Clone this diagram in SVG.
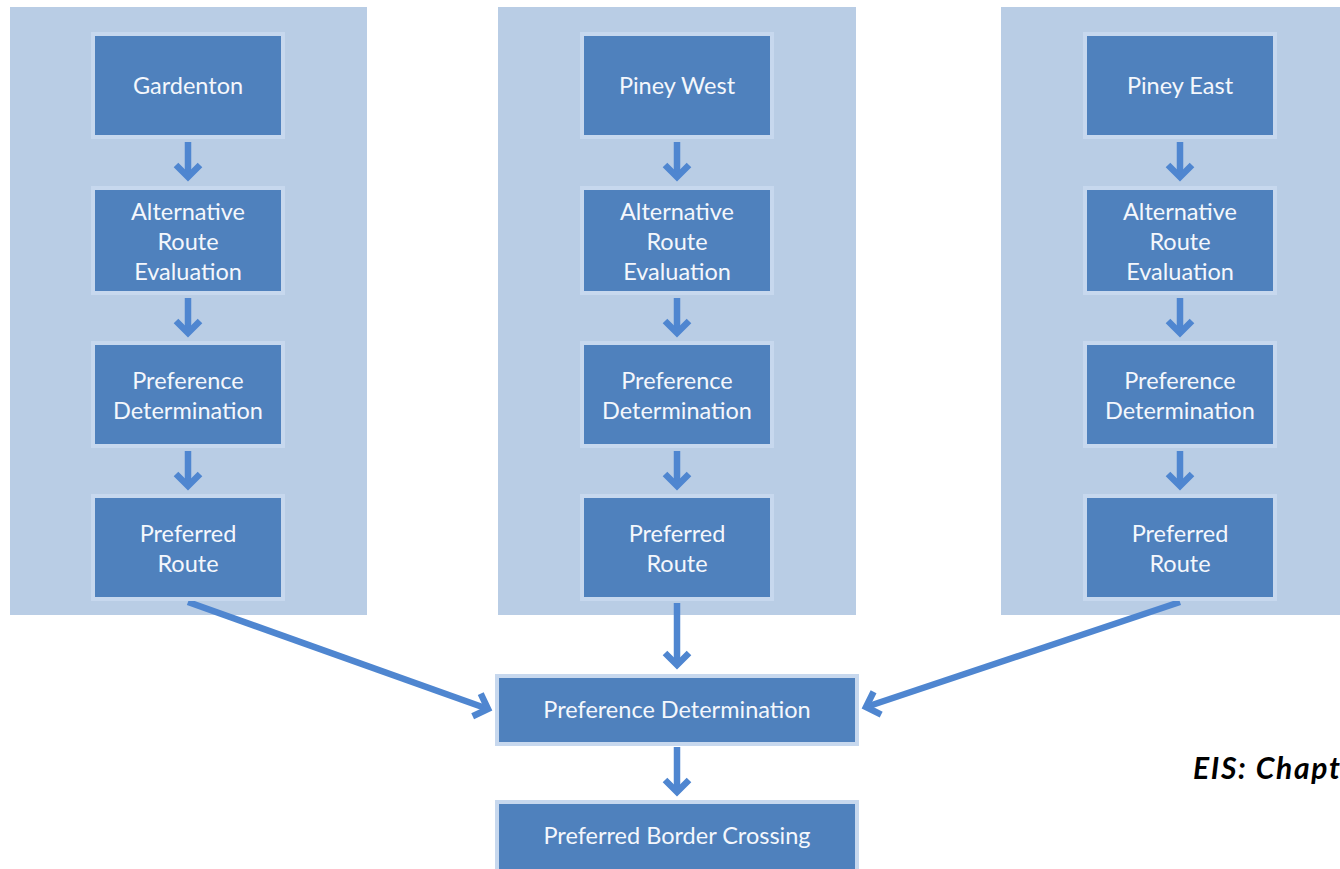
<svg xmlns="http://www.w3.org/2000/svg" width="1340" height="869" viewBox="0 0 1340 869">
<style>
.panel{fill:#B9CDE5;}
.box{fill:#4F81BD;stroke:#C7D8EE;stroke-width:4;}
.t{font-family:Lato,"Open Sans",sans-serif;font-size:23.5px;fill:#F4F7FC;text-anchor:middle;}
.conn{stroke:#4F86D0;stroke-width:6.5;fill:none;marker-end:url(#ah);}
.cap{font-family:Lato,"Liberation Sans",sans-serif;font-size:30px;font-weight:bold;font-style:italic;fill:#000;}
</style>
<defs>
<marker id="ah" viewBox="0 0 30 30" markerWidth="30" markerHeight="30" refX="19" refY="15" orient="auto" markerUnits="userSpaceOnUse">
<path d="M7,3 L19,15 L7,27" fill="none" stroke="#4F86D0" stroke-width="6.5" stroke-linejoin="miter"/>
</marker>
</defs>
<rect width="1340" height="869" fill="#fff"/>
<g id="panels">
<rect id="panel-gardenton" class="panel" x="10" y="7" width="357" height="608"/>
<rect id="panel-piney-west" class="panel" x="498" y="7" width="358" height="608"/>
<rect id="panel-piney-east" class="panel" x="1001" y="7" width="339" height="608"/>
</g>
<g id="connectors">
<line class="conn" x1="188" y1="142" x2="188" y2="177"/>
<line class="conn" x1="188" y1="298" x2="188" y2="333"/>
<line class="conn" x1="188" y1="451" x2="188" y2="486"/>
<line class="conn" x1="677" y1="142" x2="677" y2="177"/>
<line class="conn" x1="677" y1="298" x2="677" y2="333"/>
<line class="conn" x1="677" y1="451" x2="677" y2="486"/>
<line class="conn" x1="1180" y1="142" x2="1180" y2="177"/>
<line class="conn" x1="1180" y1="298" x2="1180" y2="333"/>
<line class="conn" x1="1180" y1="451" x2="1180" y2="486"/>
<line class="conn" x1="188" y1="602" x2="488" y2="709"/>
<line class="conn" x1="677" y1="603" x2="677" y2="665"/>
<line class="conn" x1="1180" y1="602" x2="866" y2="707"/>
<line class="conn" x1="677" y1="747" x2="677" y2="792"/>
</g>
<g id="n-gardenton"><rect class="box" x="93" y="34" width="190" height="103"/><text class="t" x="188" y="94">Gardenton</text></g>
<g id="n-g-alt"><rect class="box" x="93" y="188" width="190" height="105"/><text class="t" x="188" y="220">Alternative</text><text class="t" x="188" y="250">Route</text><text class="t" x="188" y="280">Evaluation</text></g>
<g id="n-g-pref"><rect class="box" x="93" y="343" width="190" height="103"/><text class="t" x="188" y="389">Preference</text><text class="t" x="188" y="419">Determination</text></g>
<g id="n-g-route"><rect class="box" x="93" y="496" width="190" height="103"/><text class="t" x="188" y="542">Preferred</text><text class="t" x="188" y="572">Route</text></g>

<g id="n-pineywest"><rect class="box" x="582" y="34" width="190" height="103"/><text class="t" x="677" y="94">Piney West</text></g>
<g id="n-w-alt"><rect class="box" x="582" y="188" width="190" height="105"/><text class="t" x="677" y="220">Alternative</text><text class="t" x="677" y="250">Route</text><text class="t" x="677" y="280">Evaluation</text></g>
<g id="n-w-pref"><rect class="box" x="582" y="343" width="190" height="103"/><text class="t" x="677" y="389">Preference</text><text class="t" x="677" y="419">Determination</text></g>
<g id="n-w-route"><rect class="box" x="582" y="496" width="190" height="103"/><text class="t" x="677" y="542">Preferred</text><text class="t" x="677" y="572">Route</text></g>

<g id="n-pineyeast"><rect class="box" x="1085" y="34" width="190" height="103"/><text class="t" x="1180" y="94">Piney East</text></g>
<g id="n-e-alt"><rect class="box" x="1085" y="188" width="190" height="105"/><text class="t" x="1180" y="220">Alternative</text><text class="t" x="1180" y="250">Route</text><text class="t" x="1180" y="280">Evaluation</text></g>
<g id="n-e-pref"><rect class="box" x="1085" y="343" width="190" height="103"/><text class="t" x="1180" y="389">Preference</text><text class="t" x="1180" y="419">Determination</text></g>
<g id="n-e-route"><rect class="box" x="1085" y="496" width="190" height="103"/><text class="t" x="1180" y="542">Preferred</text><text class="t" x="1180" y="572">Route</text></g>

<g id="n-final-pref"><rect class="box" x="497" y="676" width="360" height="68"/><text class="t" x="677" y="718">Preference Determination</text></g>
<g id="n-border"><rect class="box" x="497" y="802" width="360" height="80"/><text class="t" x="677" y="844">Preferred Border Crossing</text></g>

<text id="caption" class="cap" x="1193" y="779" textLength="147" lengthAdjust="spacing">EIS: Chapt</text>
</svg>
